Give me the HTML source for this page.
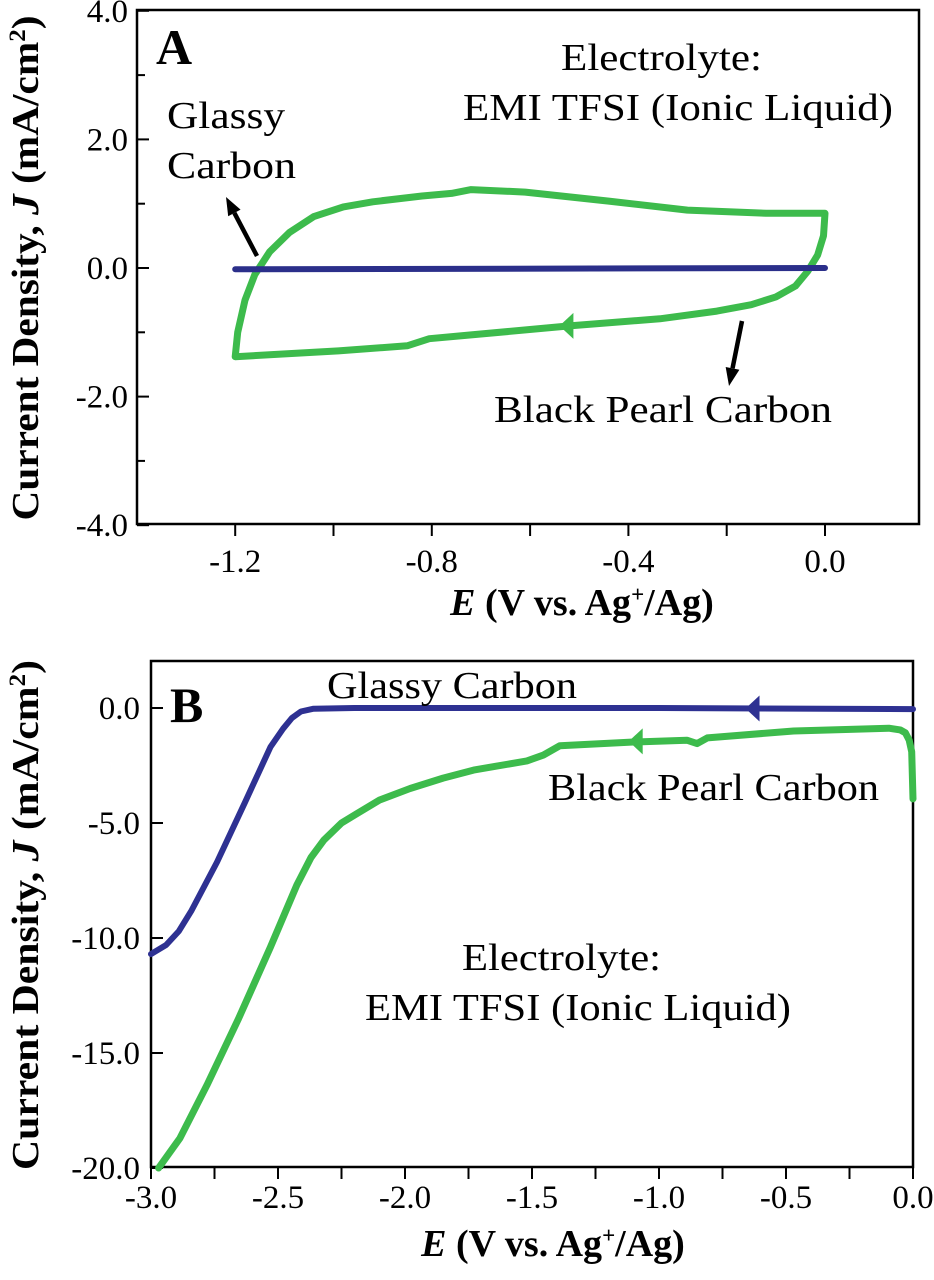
<!DOCTYPE html>
<html><head><meta charset="utf-8"><style>
body{margin:0;background:#fff}
svg{display:block;font-family:"Liberation Serif",serif}
</style></head><body>
<svg id="c" width="934" height="1280" viewBox="0 0 934 1280" xmlns="http://www.w3.org/2000/svg"></svg>
<script>
// Panel A data
const aXTicks=[-1.2,-0.8,-0.4,0.0];
const aYTicks=[4.0,2.0,0.0,-2.0,-4.0];
const aGreenE=[-1.2,-1.195,-1.18,-1.16,-1.13,-1.09,-1.04,-0.98,-0.92,-0.82,-0.76,-0.72,-0.61,-0.44,-0.28,-0.12,0,-0.003,-0.015,-0.035,-0.06,-0.1,-0.15,-0.22,-0.336,-0.52,-0.72,-0.805,-0.85,-0.99,-1.2];
const aGreenJ=[-1.38,-1.0,-0.5,-0.1,0.25,0.55,0.8,0.95,1.03,1.12,1.16,1.22,1.18,1.04,0.9,0.85,0.85,0.5,0.2,-0.05,-0.28,-0.45,-0.57,-0.67,-0.79,-0.9,-1.04,-1.1,-1.21,-1.29,-1.38];
const aBlueE=[-1.2,0.0];
const aBlueJ=[-0.02,0.0];
// Panel B data
const bXTicks=[-3.0,-2.5,-2.0,-1.5,-1.0,-0.5,0.0];
const bYTicks=[0.0,-5.0,-10.0,-15.0,-20.0];
const bBlueE=[-3.0,-2.94,-2.89,-2.84,-2.74,-2.63,-2.53,-2.48,-2.445,-2.41,-2.36,-2.2,-1.0,0.0];
const bBlueJ=[-10.7,-10.3,-9.7,-8.8,-6.7,-4.1,-1.7,-0.9,-0.43,-0.15,-0.03,0,0,-0.05];
const bGreenE=[-2.97,-2.886,-2.78,-2.655,-2.53,-2.426,-2.37,-2.32,-2.25,-2.19,-2.1,-1.98,-1.85,-1.73,-1.52,-1.455,-1.39,-1.1,-0.89,-0.85,-0.81,-0.47,-0.095,-0.05,-0.03,-0.015,-0.005,0];
const bGreenJ=[-20,-18.7,-16.4,-13.5,-10.4,-7.7,-6.5,-5.75,-5.0,-4.6,-4.0,-3.5,-3.05,-2.7,-2.3,-2.05,-1.64,-1.48,-1.4,-1.55,-1.3,-1.0,-0.88,-0.95,-1.08,-1.4,-1.9,-3.95];

const S=document.getElementById('c');
const NS='http://www.w3.org/2000/svg';
function mk(t,a,p){const e=document.createElementNS(NS,t);for(const k in a)e.setAttribute(k,a[k]);(p||S).appendChild(e);return e;}
function txt(s,x,y,sz,anchor,w,len){const a={x:x,y:y,'font-size':sz,'text-anchor':anchor||'middle','font-weight':w||'normal'};
if(len){a.textLength=len;a.lengthAdjust='spacingAndGlyphs';}
const e=mk('text',a);e.textContent=s;return e;}

const axA=e=>825+e*491.5, ayA=j=>268-j*64.3;
const axB=e=>913+e*254, ayB=j=>708-j*23;

function frame(x0,y0,x1,y1,name){const r=mk('rect',{x:x0,y:y0,width:x1-x0,height:y1-y0,fill:'none',stroke:'#000','stroke-width':2.5});

}
function line(E,J,fx,fy,col,w,name){const d=E.map((e,i)=>(i?'L':'M')+fx(e).toFixed(1)+' '+fy(J[i]).toFixed(1)).join(' ');
const p=mk('path',{d:d,fill:'none',stroke:col,'stroke-width':w,'stroke-linejoin':'round','stroke-linecap':'round'});

}
function arrowMark(x,y,col,name){const p=mk('path',{d:`M${x-10} ${y} L${x+4} ${y-13} L${x+4} ${y+13} Z`,fill:col});

}
function pointer(x1,y1,x2,y2,name){const g=mk('g',{});


const a=Math.atan2(y2-y1,x2-x1);const L=18,W=7;
const bx=x2-L*Math.cos(a),by=y2-L*Math.sin(a);
mk('line',{x1:x1,y1:y1,x2:bx,y2:by,stroke:'#000','stroke-width':4.5},g);
mk('path',{d:`M${x2} ${y2} L${bx+W*Math.sin(a)} ${by-W*Math.cos(a)} L${bx-W*Math.sin(a)} ${by+W*Math.cos(a)} Z`,fill:'#000'},g);}
function name(t,n){}

// ===== Panel A =====
frame(137,10,919,524,'plot-frame-a');
for(let j=-4;j<=4;j+=1){const y=ayA(j);mk('line',{x1:137,y1:y,x2:j%2===0?149:145,y2:y,stroke:'#000','stroke-width':2});}
aYTicks.forEach(v=>{const t=txt(v.toFixed(1),128,ayA(v)+11,33,'end');

});
for(let k=-7;k<=0.5;k++){const e=k*0.2;const x=axA(e);if(x<138||x>918)continue;mk('line',{x1:x,y1:524,x2:x,y2:524+12,stroke:'#000','stroke-width':2});}
aXTicks.forEach(v=>{const t=txt(v.toFixed(1),axA(v),572,33);

});
line(aGreenE,aGreenJ,axA,ayA,'#3dbb4c',7,'black-pearl-carbon-cv-a');
line(aBlueE,aBlueJ,axA,ayA,'#2b2f8a',6,'glassy-carbon-cv-a');
arrowMark(axA(-0.52),ayA(-0.9),'#3dbb4c','direction-arrow-a');
pointer(257,256,226,197,'glassy-carbon-pointer');
pointer(742,321,729,386,'black-pearl-pointer');
let t;
t=txt('A',156,64,50,'start','bold');name(t,'panel-label-a');
t=txt('Electrolyte:',561,70,38,'start','normal',201);name(t,'electrolyte-label-a');
t=txt('EMI TFSI (Ionic Liquid)',463,120,38,'start','normal',430);name(t,'electrolyte-name-a');
t=txt('Glassy',167,128,38,'start','normal',118);name(t,'glassy-label-a');
t=txt('Carbon',167,178,38,'start','normal',129);name(t,'carbon-label-a');
t=txt('Black Pearl Carbon',494,422,38,'start','normal',338);name(t,'black-pearl-label-a');
t=mk('text',{x:0,y:0,'font-size':38,'font-weight':'bold','text-anchor':'middle',transform:'translate(38,268) rotate(-90)',textLength:505,lengthAdjust:'spacingAndGlyphs'});
t.innerHTML='Current Density, <tspan font-style="italic">J</tspan> (mA/cm<tspan font-size="23" dy="-13">2</tspan><tspan dy="13">)</tspan>';
name(t,'y-axis-title-a');
t=mk('text',{x:582,y:615,'font-size':38,'font-weight':'bold','text-anchor':'middle'});
t.innerHTML='<tspan font-style="italic">E</tspan> (V vs. Ag<tspan font-size="23" dy="-13">+</tspan><tspan dy="13">/Ag)</tspan>';
name(t,'x-axis-title-a');

// ===== Panel B =====
frame(151,661,913,1167,'plot-frame-b');
bYTicks.forEach(v=>{const y=ayB(v);mk('line',{x1:151,y1:y,x2:163,y2:y,stroke:'#000','stroke-width':2});
const t=txt(v.toFixed(1),140,y+11,33,'end');

});
for(let k=-12;k<=0;k++){const x=axB(k*0.25);mk('line',{x1:x,y1:1167,x2:x,y2:1167+12,stroke:'#000','stroke-width':2});}
bXTicks.forEach(v=>{const t=txt(v.toFixed(1),axB(v),1208,33);

});
line(bBlueE,bBlueJ,axB,ayB,'#2e3192',6,'glassy-carbon-lsv-b');
line(bGreenE,bGreenJ,axB,ayB,'#3dbb4c',7,'black-pearl-carbon-lsv-b');
arrowMark(axB(-0.62),ayB(-0.02),'#2e3192','direction-arrow-glassy-b');
arrowMark(axB(-1.08),ayB(-1.45),'#3dbb4c','direction-arrow-pearl-b');
t=txt('B',170,722,50,'start','bold');name(t,'panel-label-b');
t=txt('Glassy Carbon',327,698,38,'start','normal',250);name(t,'glassy-label-b');
t=txt('Black Pearl Carbon',548,800,38,'start','normal',331);name(t,'black-pearl-label-b');
t=txt('Electrolyte:',462,970,38,'start','normal',199);name(t,'electrolyte-label-b');
t=txt('EMI TFSI (Ionic Liquid)',365,1020,38,'start','normal',426);name(t,'electrolyte-name-b');
t=mk('text',{x:0,y:0,'font-size':38,'font-weight':'bold','text-anchor':'middle',transform:'translate(38,915) rotate(-90)',textLength:510,lengthAdjust:'spacingAndGlyphs'});
t.innerHTML='Current Density, <tspan font-style="italic">J</tspan> (mA/cm<tspan font-size="23" dy="-13">2</tspan><tspan dy="13">)</tspan>';
name(t,'y-axis-title-b');
t=mk('text',{x:553,y:1256,'font-size':38,'font-weight':'bold','text-anchor':'middle'});
t.innerHTML='<tspan font-style="italic">E</tspan> (V vs. Ag<tspan font-size="23" dy="-13">+</tspan><tspan dy="13">/Ag)</tspan>';
name(t,'x-axis-title-b');
</script>
</body></html>
